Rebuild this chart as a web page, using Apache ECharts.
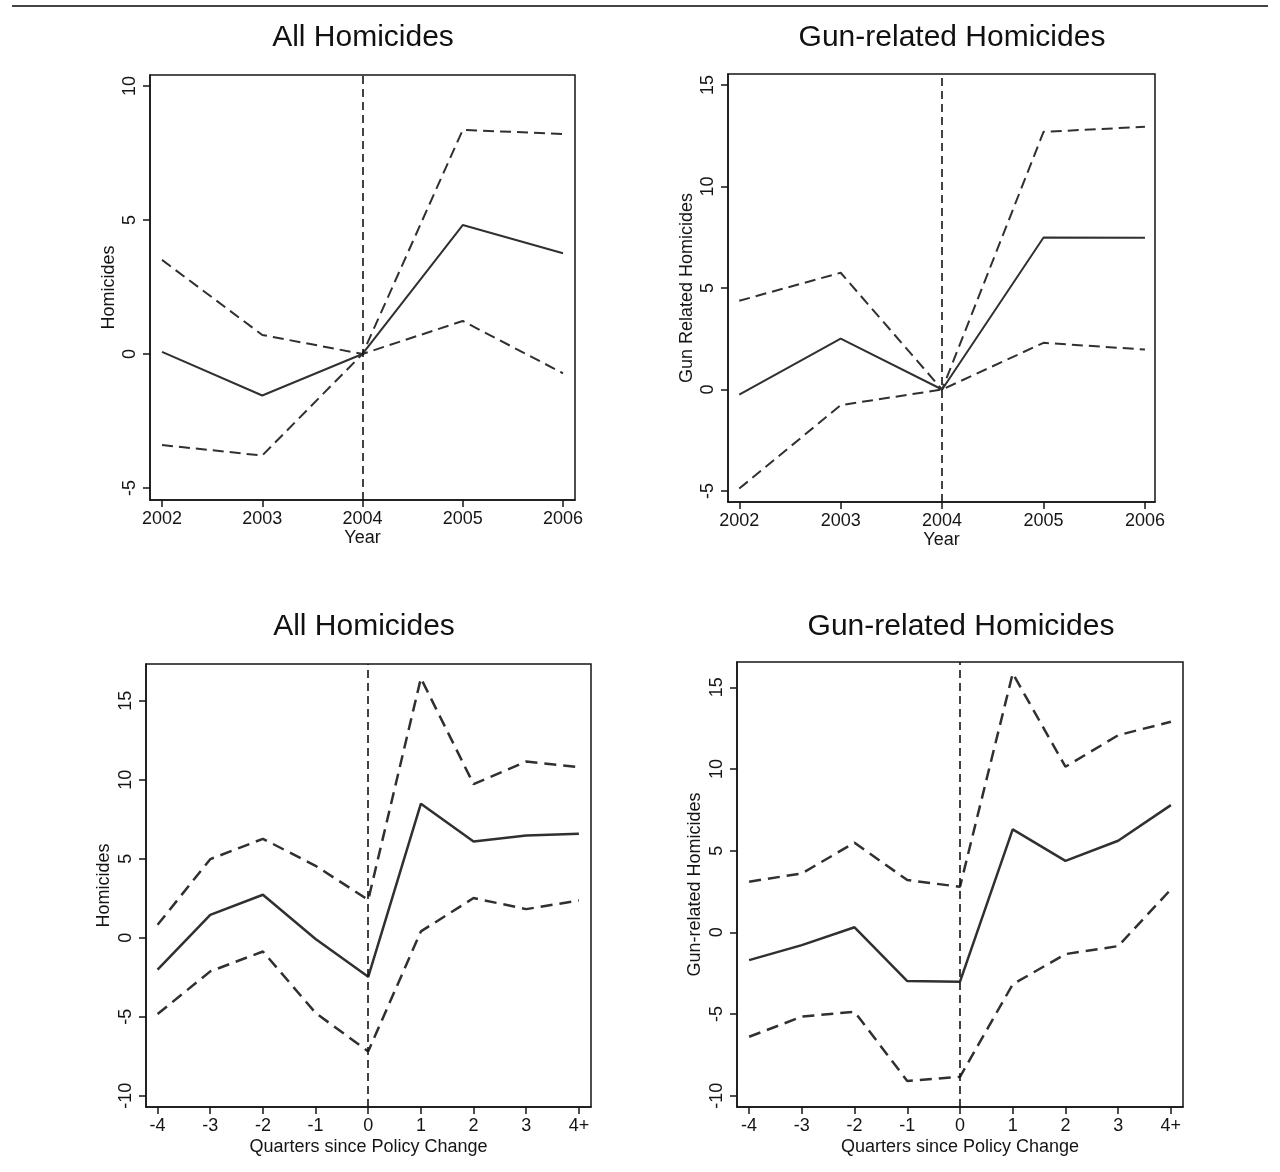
<!DOCTYPE html>
<html>
<head>
<meta charset="utf-8">
<script src="https://cdn.jsdelivr.net/npm/echarts@6/dist/echarts.min.js"></script>
<style>
html, body { margin: 0; padding: 0; background: #fff; }
#chart { width: 1280px; height: 1172px; }
</style>
</head>
<body>
<div id="chart"></div>
<script>
// ---------- data ----------
const years = [2002, 2003, 2004, 2005, 2006];
const quarters = [-4, -3, -2, -1, 0, 1, 2, 3, 4];
const quarterLabels = ['-4', '-3', '-2', '-1', '0', '1', '2', '3', '4+'];

const panelTitles = ['All Homicides', 'Gun-related Homicides', 'All Homicides', 'Gun-related Homicides'];
const yNames = ['Homicides', 'Gun Related Homicides', 'Homicides', 'Gun-related Homicides'];
const xNames = ['Year', 'Year', 'Quarters since Policy Change', 'Quarters since Policy Change'];

const yTicksTL = [-5, 0, 5, 10];
const yTicksTR = [-5, 0, 5, 10, 15];
const yTicksB = [-10, -5, 0, 5, 10, 15];

const allYearEst   = [0.08, -1.55, 0, 4.81, 3.76];
const allYearUpper = [3.51, 0.71, 0, 8.36, 8.21];
const allYearLower = [-3.40, -3.79, 0, 1.23, -0.72];

const gunYearEst   = [-0.25, 2.51, 0, 7.49, 7.47];
const gunYearUpper = [4.37, 5.75, 0, 12.69, 12.94];
const gunYearLower = [-4.88, -0.77, 0, 2.30, 1.97];

const allQEst   = [-2.02, 1.45, 2.72, -0.08, -2.47, 8.48, 6.09, 6.47, 6.58];
const allQUpper = [0.82, 4.97, 6.26, 4.55, 2.40, 16.42, 9.72, 11.15, 10.80];
const allQLower = [-4.83, -2.13, -0.87, -4.76, -7.19, 0.40, 2.51, 1.81, 2.36];

const gunQEst   = [-1.70, -0.78, 0.31, -2.98, -3.02, 6.30, 4.38, 5.61, 7.79];
const gunQUpper = [3.10, 3.61, 5.49, 3.20, 2.79, 15.85, 10.14, 12.07, 12.89];
const gunQLower = [-6.39, -5.16, -4.86, -9.10, -8.84, -3.18, -1.33, -0.84, 2.63];

const policyYear = 2004;
const policyQuarter = 0;

// ---------- layout ----------
const FONT = '"Liberation Sans", Arial, Helvetica, sans-serif';
const INK = '#151515';
const LINE = '#303030';

const grids = [
  { left: 150, top: 75, width: 425, height: 425 },
  { left: 728, top: 74, width: 427, height: 428 },
  { left: 146, top: 664, width: 445, height: 443 },
  { left: 737, top: 662, width: 446, height: 445 }
];
const xRanges = [[2001.88, 2006.12], [2001.889, 2006.099], [-4.22, 4.23], [-4.23, 4.23]];
const yRanges = [[-5.45, 10.41], [-5.54, 15.54], [-10.71, 17.32], [-10.69, 16.55]];
const xTickSets = [years, years, quarters, quarters];
const yTickSets = [yTicksTL, yTicksTR, yTicksB, yTicksB];
const titlePos = [[363, 23], [952, 23], [364, 612], [961, 612]];
const xNameGaps = [28, 28, 31, 31];
const yNameGaps = [32, 32, 33, 33];

function xFormatter(i) {
  return function (v) {
    if (i < 2) return String(Math.round(v));
    const idx = quarters.indexOf(Math.round(v));
    return idx >= 0 ? quarterLabels[idx] : '';
  };
}

const axisLineStyle = { color: INK, width: 1.5 };

const xAxes = grids.map((g, i) => ({
  type: 'value',
  gridIndex: i,
  min: xRanges[i][0],
  max: xRanges[i][1],
  name: xNames[i],
  nameLocation: 'middle',
  nameGap: xNameGaps[i],
  nameTextStyle: { fontFamily: FONT, fontSize: 18, color: INK },
  axisLine: { show: true, onZero: false, lineStyle: axisLineStyle },
  axisTick: { show: true, length: 7, lineStyle: axisLineStyle, customValues: xTickSets[i] },
  axisLabel: {
    show: true, fontFamily: FONT, fontSize: 18, color: INK, margin: 10,
    customValues: xTickSets[i], formatter: xFormatter(i)
  },
  splitLine: { show: false }
}));

const yAxes = grids.map((g, i) => ({
  type: 'value',
  gridIndex: i,
  min: yRanges[i][0],
  max: yRanges[i][1],
  name: yNames[i],
  nameLocation: 'middle',
  nameRotate: 90,
  nameGap: yNameGaps[i],
  nameTextStyle: { fontFamily: FONT, fontSize: 18, color: INK },
  axisLine: { show: true, onZero: false, lineStyle: axisLineStyle },
  axisTick: { show: true, length: 7, lineStyle: axisLineStyle, customValues: yTickSets[i] },
  axisLabel: {
    show: true, rotate: 90, fontFamily: FONT, fontSize: 18, color: INK, margin: 11,
    customValues: yTickSets[i], formatter: v => String(Math.round(v))
  },
  splitLine: { show: false }
}));

const panels = [
  { xs: years, est: allYearEst, up: allYearUpper, lo: allYearLower, policy: policyYear, w: 2, dash: [11, 6] },
  { xs: years, est: gunYearEst, up: gunYearUpper, lo: gunYearLower, policy: policyYear, w: 2, dash: [11, 6] },
  { xs: quarters, est: allQEst, up: allQUpper, lo: allQLower, policy: policyQuarter, w: 2.5, dash: [12, 7] },
  { xs: quarters, est: gunQEst, up: gunQUpper, lo: gunQLower, policy: policyQuarter, w: 2.5, dash: [12, 7] }
];

const series = [];
panels.forEach((p, i) => {
  const pair = arr => p.xs.map((x, k) => [x, arr[k]]);
  series.push({
    type: 'line', xAxisIndex: i, yAxisIndex: i, data: pair(p.lo),
    symbol: 'none', silent: true, z: 3,
    lineStyle: { color: LINE, width: p.w, type: p.dash }
  });
  series.push({
    type: 'line', xAxisIndex: i, yAxisIndex: i, data: pair(p.up),
    symbol: 'none', silent: true, z: 3,
    lineStyle: { color: LINE, width: p.w, type: p.dash }
  });
  series.push({
    type: 'line', xAxisIndex: i, yAxisIndex: i, data: pair(p.est),
    symbol: 'none', silent: true, z: 4,
    lineStyle: { color: LINE, width: p.w, type: 'solid' },
    markLine: {
      silent: true, symbol: ['none', 'none'], animation: false,
      label: { show: false },
      lineStyle: { color: INK, width: 1.6, type: [8, 5] },
      data: [{ xAxis: p.policy }]
    }
  });
});

const titles = panelTitles.map((t, i) => ({
  text: t,
  left: titlePos[i][0],
  top: titlePos[i][1],
  textAlign: 'center',
  padding: 0,
  textStyle: { fontFamily: FONT, fontSize: 30, fontWeight: 'normal', color: '#111' }
}));

const option = {
  animation: false,
  backgroundColor: '#ffffff',
  title: titles,
  grid: grids.map(g => Object.assign({ show: true, borderColor: INK, borderWidth: 1.5, backgroundColor: 'transparent', containLabel: false }, g)),
  xAxis: xAxes,
  yAxis: yAxes,
  series: series,
  graphic: [{
    type: 'line',
    shape: { x1: 12, y1: 6, x2: 1268, y2: 6 },
    style: { stroke: '#444', lineWidth: 2 },
    silent: true
  }]
};

const chart = echarts.init(document.getElementById('chart'), null, { renderer: 'canvas' });
chart.setOption(option);
</script>
</body>
</html>
